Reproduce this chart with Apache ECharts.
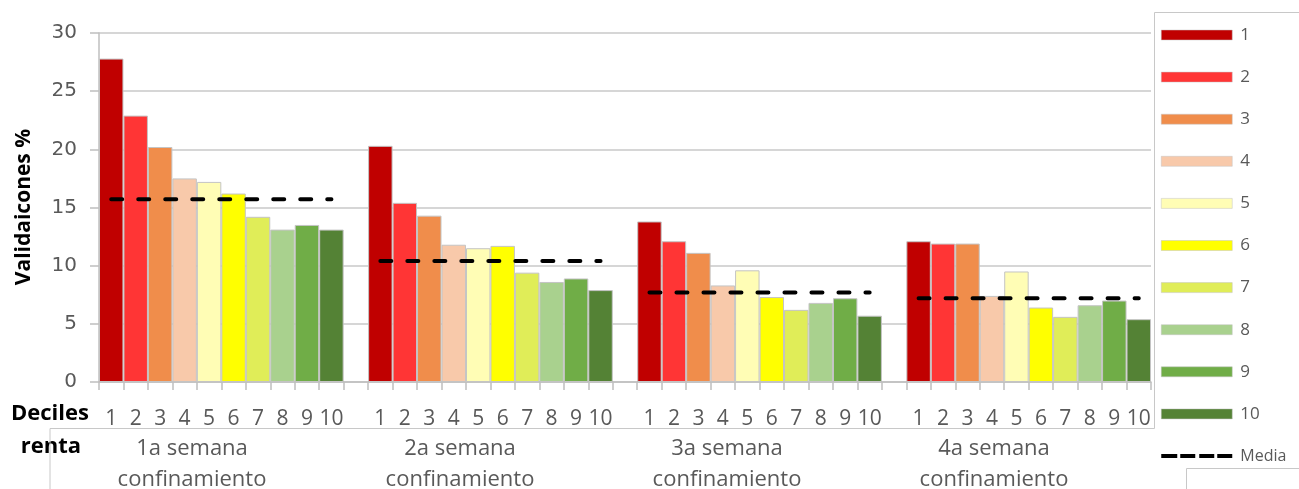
<!DOCTYPE html>
<html>
<head>
<meta charset="utf-8">
<script src="https://cdn.jsdelivr.net/npm/echarts@6.0.0/dist/echarts.min.js"></script>
<style>
html,body{margin:0;padding:0;background:#fff;}
#chart{width:1299px;height:489px;}
</style>
</head>
<body>
<div id="chart"></div>
<script>
// ---- data ----
const deciles = ['1','2','3','4','5','6','7','8','9','10'];
const semanas = ['1a semana\nconfinamiento','2a semana\nconfinamiento','3a semana\nconfinamiento','4a semana\nconfinamiento'];
const semana1 = [27.8, 22.9, 20.2, 17.5, 17.2, 16.2, 14.2, 13.1, 13.5, 13.1];
const semana2 = [20.3, 15.4, 14.3, 11.8, 11.5, 11.7, 9.4, 8.6, 8.9, 7.9];
const semana3 = [13.8, 12.1, 11.1, 8.3, 9.6, 7.3, 6.2, 6.8, 7.2, 5.7];
const semana4 = [12.1, 11.9, 11.9, 7.4, 9.5, 6.4, 5.6, 6.6, 7.0, 5.4];
const medias = [15.7, 10.4, 7.7, 7.2];
const yTicks = [0, 5, 10, 15, 20, 25, 30];

// ---- styles ----
const colors = ['#C00000','#FF3535','#F08D4B','#F8C9AA','#FFFDB5','#FFFF00','#E0ED58','#A9D18E','#70AD47','#548235'];
const gray = '#595959';
const groups = [semana1, semana2, semana3, semana4];

// category slots: 10 deciles per week, plus one empty slot between weeks
const xData = [];
groups.forEach((g, gi) => {
  deciles.forEach(d => xData.push(d));
  if (gi < groups.length - 1) xData.push('');
});
const slotOf = (gi, di) => gi * 11 + di;

const barSeries = deciles.map((d, di) => {
  const data = xData.map(() => null);
  groups.forEach((g, gi) => { data[slotOf(gi, di)] = g[di]; });
  return {
    name: d, type: 'bar', stack: 'all', data,
    barCategoryGap: '0%',
    itemStyle: { color: colors[di], borderColor: '#c4c4c4', borderWidth: 1 },
    emphasis: { disabled: true }
  };
});
const mediaData = xData.map(() => null);
groups.forEach((g, gi) => { deciles.forEach((d, di) => { mediaData[slotOf(gi, di)] = medias[gi]; }); });

const groupLabelX = [192, 460, 727, 994];
const dashIcon = 'path://M0,0L0.05,0L0,0.05Z M0,3h16v4h-16z M19,3h15v4h-15z M38,3h15v4h-15z M56,3h15v4h-15z M70.95,10L71,10L71,9.95Z';

const chart = echarts.init(document.getElementById('chart'), null, { renderer: 'canvas' });
chart.setOption({
  animation: false,
  backgroundColor: '#fff',
  grid: { left: 99, top: 33, width: 1052, height: 349, containLabel: false },
  xAxis: {
    type: 'category', data: xData, boundaryGap: true,
    axisLine: { lineStyle: { color: '#bfbfbf', width: 1.5 } },
    axisTick: { show: true, interval: 0, length: 8, lineStyle: { color: '#bfbfbf', width: 1.5 } },
    axisLabel: { interval: 0, color: gray, fontFamily: 'Open Sans', fontSize: 21, margin: 27 }
  },
  yAxis: {
    type: 'value', min: 0, max: 30, interval: 5,
    axisLine: { show: true, lineStyle: { color: '#bfbfbf', width: 1.5 } },
    axisTick: { show: true, length: 9, lineStyle: { color: '#bfbfbf', width: 1.5 } },
    splitLine: { lineStyle: { color: '#c8c8c8', width: 1.5 } },
    axisLabel: { color: gray, fontFamily: 'DejaVu Sans', fontSize: 20, margin: 22,
      formatter: v => yTicks.includes(v) ? String(v) : '' }
  },
  legend: {
    orient: 'vertical', left: 1161, top: 25, padding: 0,
    itemWidth: 71, itemHeight: 10, itemGap: 22.1,
    itemStyle: { borderWidth: 0.5 },
    textStyle: { color: gray, fontFamily: 'Open Sans', fontSize: 17, lineHeight: 20, padding: [0, 0, 0, 3] },
    data: deciles.map(d => ({ name: d, icon: 'rect' })).concat([{ name: 'Media', icon: dashIcon,
      textStyle: { fontSize: 16 } }])
  },
  series: barSeries.concat([{
    name: 'Media', type: 'line', data: mediaData, symbol: 'none', z: 10,
    connectNulls: false,
    lineStyle: { color: '#000', width: 4, type: [11, 16], cap: 'round' },
    itemStyle: { color: '#000' },
    emphasis: { disabled: true }
  }]),
  graphic: [
    { type: 'text', x: 24, y: 207, rotation: Math.PI / 2,
      style: { text: 'Validaicones %', fill: '#000', font: 'bold 21px "Open Sans"', align: 'center', verticalAlign: 'middle' } },
    { type: 'text', x: 50, y: 414,
      style: { text: 'Deciles', fill: '#000', font: 'bold 22px "Open Sans"', align: 'center', verticalAlign: 'middle' } },
    { type: 'text', x: 51, y: 447,
      style: { text: 'renta', fill: '#000', font: 'bold 22px "Open Sans"', align: 'center', verticalAlign: 'middle' } },
    ...semanas.map((s, i) => ({ type: 'text', x: groupLabelX[i], y: 464,
      style: { text: s, fill: gray, font: '22px "Open Sans"', lineHeight: 31, align: 'center', verticalAlign: 'middle' } })),
    { type: 'polyline', shape: { points: [[50, 489], [50, 428.5], [1154.5, 428.5], [1154.5, 12.5], [1299, 12.5]] },
      style: { stroke: '#c8c8c8', lineWidth: 1, fill: null } },
    { type: 'polyline', shape: { points: [[1186.5, 489], [1186.5, 468.5], [1299, 468.5]] },
      style: { stroke: '#c8c8c8', lineWidth: 1, fill: null } }
  ]
});
</script>
</body>
</html>
